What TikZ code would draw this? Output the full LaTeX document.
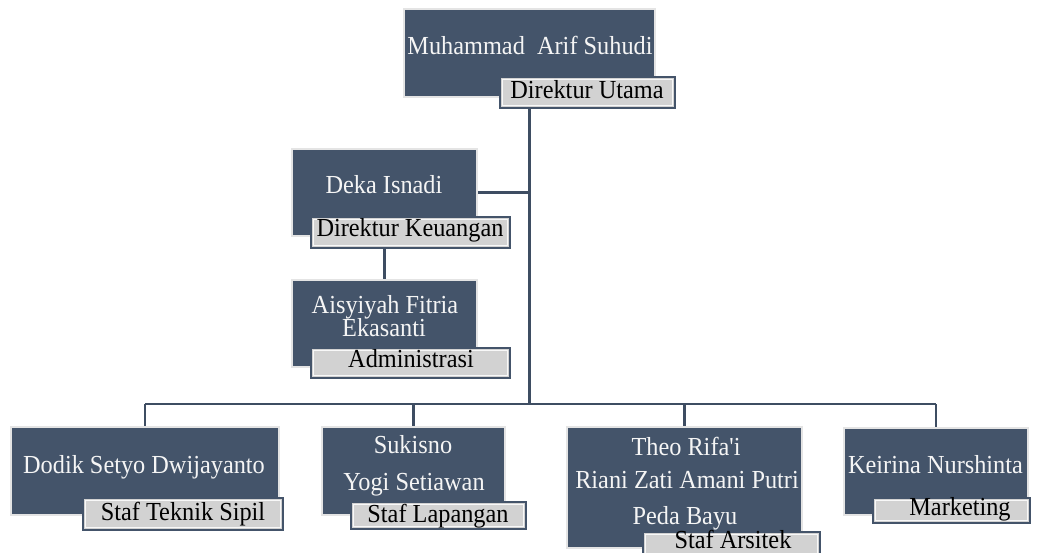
\documentclass[tikz,border=0pt]{standalone}
\usepackage{fontspec}
\setmainfont{Liberation Serif}
\newfontfamily\chartfont[FakeStretch=0.935]{Liberation Serif}
\definecolor{slate}{HTML}{44546A}
\definecolor{conncol}{HTML}{3E4D62}
\definecolor{lblfill}{HTML}{D2D2D2}
\definecolor{rim}{HTML}{E4E4E4}
\tikzset{
  darkbox/.style={rectangle, fill=slate, draw=rim, line width=2pt, inner sep=0pt},
  lblbox/.style={rectangle, fill=lblfill, draw=slate, line width=1.6pt, inner sep=0pt,
    path picture={\draw[white!85!lblfill, line width=1.2pt]
      ([shift={(2.5pt,-2.5pt)}]path picture bounding box.north west) rectangle
      ([shift={(-2.5pt,2.5pt)}]path picture bounding box.south east);}},
  nametxt/.style={anchor=base, inner sep=0pt, text=white!96!black, font=\chartfont\fontsize{26}{28}\selectfont},
  lbltxt/.style={anchor=base, inner sep=0pt, text=black, font=\chartfont\fontsize{26}{28}\selectfont},
  conn/.style={draw=conncol, line width=2.6pt}
}
\begin{document}
\begin{tikzpicture}[x=1pt,y=-1pt]
\useasboundingbox (0,0) rectangle (1044,553);
% boxes
\node[darkbox, minimum width=251pt, minimum height=88pt] (top) at (529.5,53) {};
\node[darkbox, minimum width=185pt, minimum height=87pt] (deka) at (384.5,192.5) {};
\node[darkbox, minimum width=185pt, minimum height=87pt] (aisy) at (384.5,323.5) {};
\node[darkbox, minimum width=268pt, minimum height=88pt] (dodik) at (145,471) {};
\node[darkbox, minimum width=183pt, minimum height=88pt] (sukisno) at (413.5,471) {};
\node[darkbox, minimum width=235pt, minimum height=121pt] (theo) at (684.5,487.5) {};
\node[darkbox, minimum width=184pt, minimum height=87pt] (keirina) at (936,471.5) {};
% junction
\coordinate (j) at (529.5,404);
% connectors
\draw[conn] (top.center |- 0,105) -- (j);
\draw[conn] (deka.east) -- (deka.east -| j);
\draw[conn] (dodik.north |- j) -- (keirina.north |- j);
\draw[conn] (dodik.north |- j) -- (dodik.north);
\draw[conn] (sukisno.north |- j) -- (sukisno.north);
\draw[conn] (theo.north |- j) -- (theo.north);
\draw[conn] (keirina.north |- j) -- (keirina.north);
% labels
\node[lblbox, minimum width=175pt, minimum height=31pt] (toplbl) at (587.5,92.5) {};
\node[lblbox, minimum width=199pt, minimum height=31pt] (dekalbl) at (410.5,232.5) {};
\node[lblbox, minimum width=199pt, minimum height=30pt] (aisylbl) at (410.5,363) {};
\node[lblbox, minimum width=200pt, minimum height=32pt] (dodiklbl) at (183,514) {};
\node[lblbox, minimum width=175pt, minimum height=27pt] (sukisnolbl) at (438.5,515.5) {};
\node[lblbox, minimum width=177pt, minimum height=30pt] (theolbl) at (731.5,547) {};
\node[lblbox, minimum width=157pt, minimum height=25pt] (keirinalbl) at (951.5,510.5) {};
\draw[conn] (dekalbl.south -| deka) -- (aisy.north);
% names
\node[nametxt] (tn) at (530,55) {Muhammad~ Arif Suhudi};
\node[nametxt] (dn) at (384,194) {Deka Isnadi};
\node[nametxt] (an1) at (385,313) {Aisyiyah Fitria};
\node[nametxt] (an2) at (384,337) {Ekasanti};
\node[nametxt] (don) at (144,473) {Dodik Setyo Dwijayanto};
\node[nametxt] (sn1) at (413,453) {Sukisno};
\node[nametxt] (sn2) at (414,490) {Yogi Setiawan};
\node[nametxt] (thn1) at (686,455) {Theo Rifa'i};
\node[nametxt] (thn2) at (687,488) {Riani Zati Amani Putri};
\node[nametxt] (thn3) at (685,524) {Peda Bayu};
\node[nametxt] (kn) at (935.5,473) {Keirina Nurshinta};
% label texts
\node[lbltxt] (tl) at (587,99) {Direktur Utama};
\node[lbltxt] (dl) at (410,237) {Direktur Keuangan};
\node[lbltxt] (al) at (411,367) {Administrasi};
\node[lbltxt] (dol) at (183,520) {Staf Teknik Sipil};
\node[lbltxt] (sl) at (438,522) {Staf Lapangan};
\node[lbltxt] (thl) at (733,548.5) {Staf Arsitek};
\node[lbltxt] (kl) at (960,515) {Marketing};
\end{tikzpicture}
\end{document}
